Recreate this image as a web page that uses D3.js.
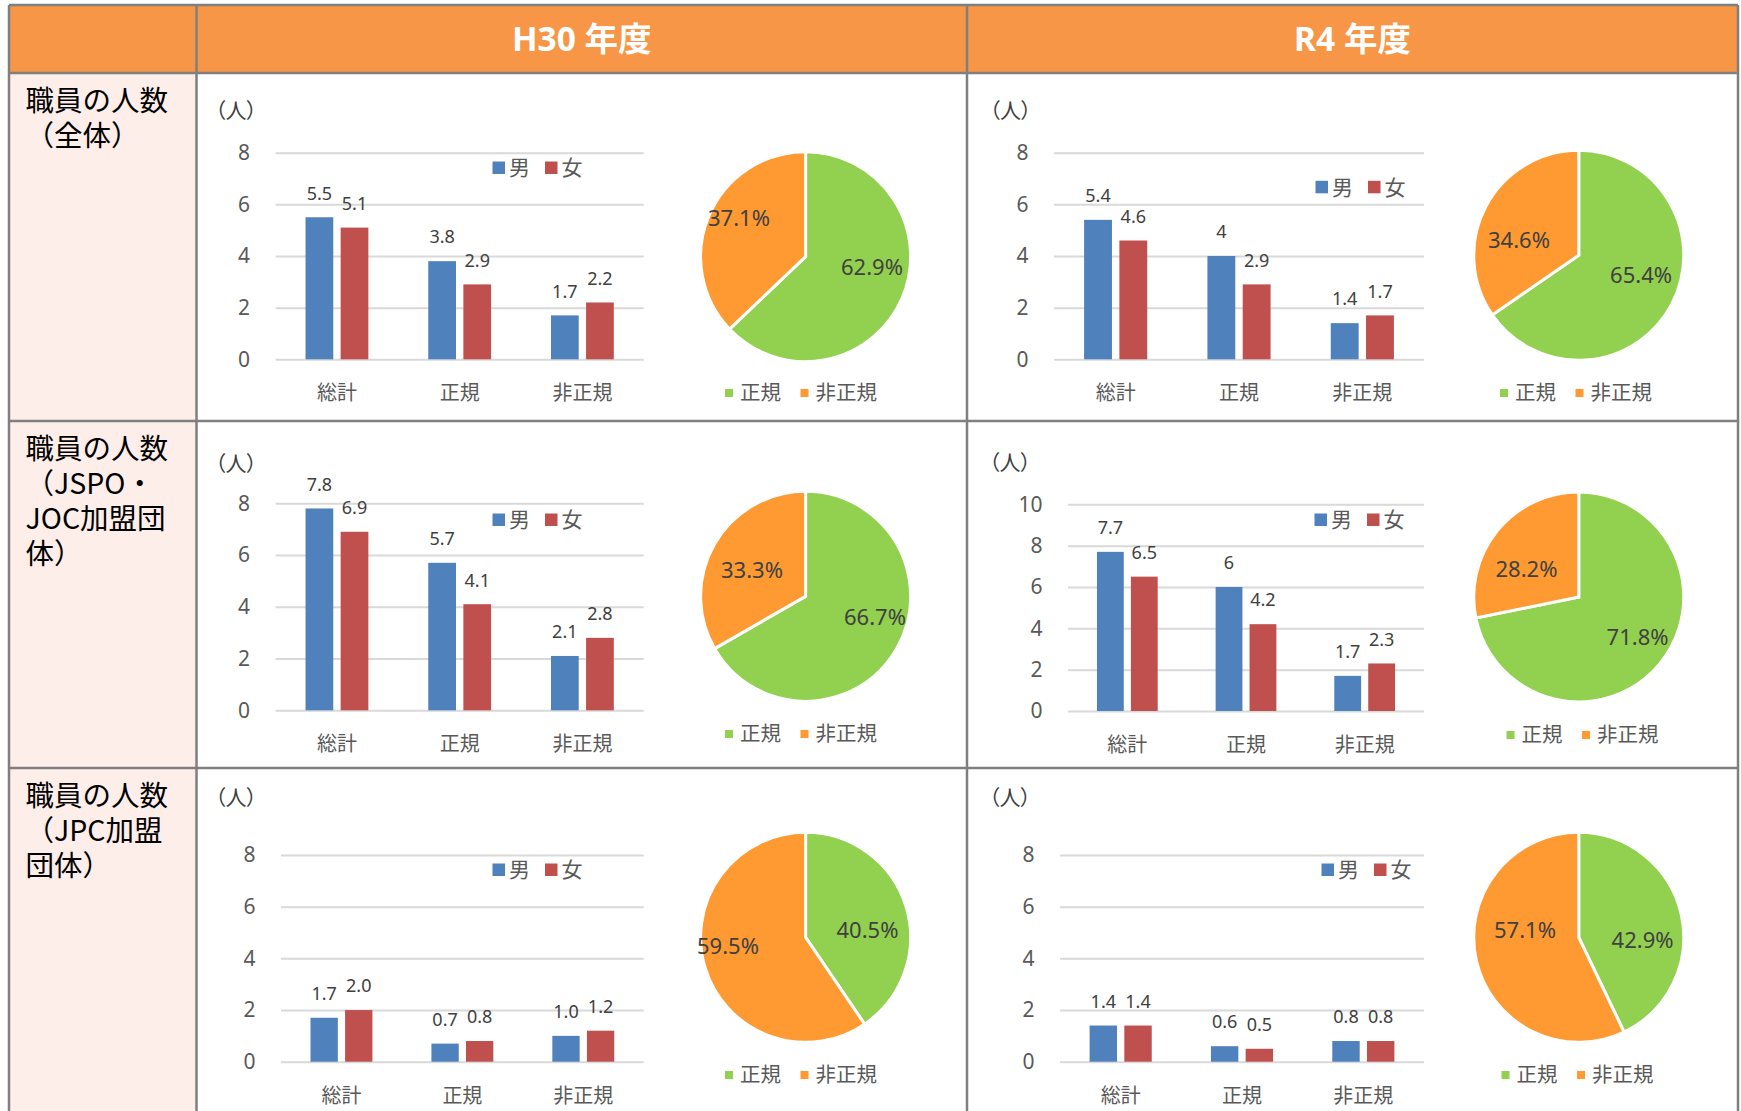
<!DOCTYPE html>
<html><head><meta charset="utf-8">
<script src="https://cdn.jsdelivr.net/npm/d3@7"></script>
<style>
body{margin:0;background:#fff}
svg{display:block}
text{font-family:"Noto Sans","Noto Sans CJK JP",sans-serif}
</style>
</head><body><svg id="chart" width="1741" height="1111"></svg>
<script>
// ---------- data ----------
const yearHeaders = ["H30 年度", "R4 年度"];
const rowTitles = [
  ["職員の人数", "（全体）"],
  ["職員の人数", "（JSPO・", "JOC加盟団", "体）"],
  ["職員の人数", "（JPC加盟", "団体）"]
];
const categories = ["総計", "正規", "非正規"];
const genders = ["男", "女"];
const pieCategories = ["正規", "非正規"];
const unitLabel = "（人）";

const h30AllMale = [5.5, 3.8, 1.7];
const h30AllFemale = [5.1, 2.9, 2.2];
const r4AllMale = [5.4, 4, 1.4];
const r4AllFemale = [4.6, 2.9, 1.7];
const h30JspoMale = [7.8, 5.7, 2.1];
const h30JspoFemale = [6.9, 4.1, 2.8];
const r4JspoMale = [7.7, 6, 1.7];
const r4JspoFemale = [6.5, 4.2, 2.3];
const h30JpcMale = [1.7, 0.7, 1.0];
const h30JpcFemale = [2.0, 0.8, 1.2];
const r4JpcMale = [1.4, 0.6, 0.8];
const r4JpcFemale = [1.4, 0.5, 0.8];

const h30AllPie = [62.9, 37.1];
const r4AllPie = [65.4, 34.6];
const h30JspoPie = [66.7, 33.3];
const r4JspoPie = [71.8, 28.2];
const h30JpcPie = [40.5, 59.5];
const r4JpcPie = [42.9, 57.1];

const ticks8 = [0, 2, 4, 6, 8];
const ticks10 = [0, 2, 4, 6, 8, 10];

// ---------- panels (data binding) ----------
const panels = [
  {row:0, col:0, male:h30AllMale, female:h30AllFemale, pie:h30AllPie, ticks:ticks8, fixed:false},
  {row:0, col:1, male:r4AllMale, female:r4AllFemale, pie:r4AllPie, ticks:ticks8, fixed:false},
  {row:1, col:0, male:h30JspoMale, female:h30JspoFemale, pie:h30JspoPie, ticks:ticks8, fixed:false},
  {row:1, col:1, male:r4JspoMale, female:r4JspoFemale, pie:r4JspoPie, ticks:ticks10, fixed:false},
  {row:2, col:0, male:h30JpcMale, female:h30JpcFemale, pie:h30JpcPie, ticks:ticks8, fixed:true},
  {row:2, col:1, male:r4JpcMale, female:r4JpcFemale, pie:r4JpcPie, ticks:ticks8, fixed:true}
];

// ---------- layout ----------
const colX = [9, 196.5, 967, 1738];
const rowY = [5, 73, 421, 768, 1111];
// lab: pie-label placement offsets from the pie centre (green, orange)
const geom = [
  {x0:275.6, x1:643.75, yT:152.7, yB:359.3, ux:236, uy:111, lx:492.5, ly:168, cx:805.6, cy:256.7, px:725, py:393,
   lab:[[66.4, 10.3], [-66.6, -38.7]]},
  {x0:1054, x1:1424, yT:152.7, yB:359.3, ux:1010.5, uy:111, lx:1315.5, ly:187.3, cx:1578.75, cy:255.3, px:1500, py:393,
   lab:[[62.3, 19.7], [-59.8, -14.6]]},
  {x0:275.6, x1:643.75, yT:503.3, yB:710.3, ux:236, uy:463.3, lx:492.5, ly:520, cx:805.6, cy:596.3, px:725, py:734,
   lab:[[69.4, 21], [-53.6, -26.3]]},
  {x0:1068, x1:1424, yT:504.3, yB:711, ux:1010, uy:462.7, lx:1314.5, ly:520, cx:1578.75, cy:597, px:1506.5, py:735,
   lab:[[58.8, 40.3], [-52.3, -28]]},
  {x0:281, x1:643.75, yT:855, yB:1061.7, ux:236, uy:797.3, lx:492.5, ly:870, cx:805.6, cy:937.3, px:725, py:1075,
   lab:[[61.9, -6.6], [-77.6, 8.7]]},
  {x0:1060, x1:1424, yT:855, yB:1061.7, ux:1010, uy:797.3, lx:1321.5, ly:870, cx:1578.75, cy:937.3, px:1501.5, py:1075,
   lab:[[63.8, 2.7], [-53.8, -6.6]]}
];

const C = {
  header:"#F79646", pink:"#FDEEEA", border:"#7F7F7F", grid:"#D9D9D9",
  male:"#4F81BD", female:"#C0504D", pieA:"#92D050", pieB:"#FF9A33",
  axis:"#595959", label:"#404040"
};
const genderColor = d3.scaleOrdinal().domain(genders).range([C.male, C.female]);
const pieColor = d3.scaleOrdinal().domain(pieCategories).range([C.pieA, C.pieB]);

const svg = d3.select("#chart");

// ---------- table ----------
svg.append("rect").attr("x", colX[0]).attr("y", rowY[0]).attr("width", colX[3]-colX[0]).attr("height", rowY[1]-rowY[0]).attr("fill", C.header);
svg.append("rect").attr("x", colX[0]).attr("y", rowY[1]).attr("width", colX[1]-colX[0]).attr("height", rowY[4]-rowY[1]).attr("fill", C.pink);

yearHeaders.forEach((t, i) => {
  svg.append("text").attr("x", (colX[i+1]+colX[i+2])/2).attr("y", (rowY[0]+rowY[1])/2)
    .attr("dy", "0.35em").attr("text-anchor", "middle").attr("fill", "#fff")
    .attr("font-size", 33.5).attr("font-weight", 700).text(t);
});

rowTitles.forEach((lines, r) => {
  const t = svg.append("text").attr("font-size", 28.5).attr("fill", "#000")
    .style("font-family", "'Noto Sans CJK JP',sans-serif");
  lines.forEach((ln, k) => {
    t.append("tspan").attr("x", 25.5).attr("y", rowY[r+1] + 28.5 + k*34.8).attr("dy", "0.35em").text(ln);
  });
});

// ---------- charts ----------
panels.forEach((p, idx) => {
  const g = geom[idx];
  const gp = svg.append("g");
  const fmt = p.fixed ? d3.format(".1f") : (v => String(v));

  const y = d3.scaleLinear().domain([0, d3.max(p.ticks)]).range([g.yB, g.yT]);
  const x0 = d3.scaleBand().domain(categories).range([g.x0, g.x1]).padding(0);
  const groupW = x0.bandwidth() * 0.512;
  const x1 = d3.scaleBand().domain(genders).range([0, groupW]).paddingInner(0.21).paddingOuter(0);

  // y axis with gridlines
  const ya = gp.append("g").attr("transform", `translate(${g.x0},0)`)
    .call(d3.axisLeft(y).tickValues(p.ticks).tickSize(-(g.x1 - g.x0)).tickPadding(25.5));
  ya.select(".domain").remove();
  ya.selectAll(".tick line").attr("stroke", C.grid).attr("stroke-width", 2);
  ya.selectAll(".tick text").attr("fill", C.axis).attr("font-size", 21).attr("font-family", null);

  // x axis labels
  const xa = gp.append("g").attr("transform", `translate(0,${g.yB})`)
    .call(d3.axisBottom(x0).tickSize(0));
  xa.select(".domain").remove();
  xa.selectAll(".tick text").attr("y", 34).attr("dy", "0.35em").attr("fill", C.axis)
    .attr("font-size", 20).attr("font-family", null)
    .style("font-family", "'Noto Sans CJK JP',sans-serif");

  // unit label
  gp.append("text").attr("x", g.ux).attr("y", g.uy).attr("dy", "0.35em").attr("text-anchor", "middle")
    .attr("font-size", 21).attr("fill", C.label)
    .style("font-family", "'Noto Sans CJK JP',sans-serif").style("font-feature-settings", "'palt'")
    .text(unitLabel);

  // bars
  const rows = categories.map((c, i) => ({cat:c, vals:[{g:"男", v:p.male[i]}, {g:"女", v:p.female[i]}]}));
  const grp = gp.selectAll(".grp").data(rows).join("g")
    .attr("transform", d => `translate(${x0(d.cat) + (x0.bandwidth() - groupW)/2},0)`);
  grp.selectAll("rect").data(d => d.vals).join("rect")
    .attr("x", d => x1(d.g)).attr("width", x1.bandwidth())
    .attr("y", d => y(d.v)).attr("height", d => g.yB - y(d.v))
    .attr("fill", d => genderColor(d.g));
  grp.selectAll("text").data(d => d.vals).join("text")
    .attr("x", d => x1(d.g) + x1.bandwidth()/2).attr("y", d => y(d.v) - 24)
    .attr("dy", "0.35em").attr("text-anchor", "middle").attr("font-size", 18).attr("fill", C.label)
    .text(d => fmt(d.v));

  // bar legend
  const lg = gp.append("g").attr("transform", `translate(${g.lx},${g.ly})`);
  genders.forEach((s, i) => {
    const ox = i * 52.5;
    lg.append("rect").attr("x", ox).attr("y", -6.5).attr("width", 12.5).attr("height", 12.5).attr("fill", genderColor(s));
    lg.append("text").attr("x", ox + 16.5).attr("y", 0).attr("dy", "0.35em").attr("font-size", 21)
      .attr("fill", C.axis).style("font-family", "'Noto Sans CJK JP',sans-serif").text(s);
  });

  // pie
  const R = 105;
  const pieData = d3.pie().sort(null).value(d => d.v)(pieCategories.map((c, i) => ({c, v:p.pie[i]})));
  const arc = d3.arc().innerRadius(0).outerRadius(R);
  const pg = gp.append("g").attr("transform", `translate(${g.cx},${g.cy})`);
  pg.selectAll("path").data(pieData).join("path")
    .attr("d", arc).attr("fill", d => pieColor(d.data.c)).attr("stroke", "#fff").attr("stroke-width", 3);
  pg.selectAll("text").data(pieData).join("text")
    .attr("x", (d, i) => g.lab[i][0]).attr("y", (d, i) => g.lab[i][1])
    .attr("dy", "0.35em").attr("text-anchor", "middle").attr("font-size", 22).attr("fill", C.label)
    .text(d => d.data.v.toFixed(1) + "%");

  // pie legend
  const pl = gp.append("g").attr("transform", `translate(${g.px},${g.py})`);
  pieCategories.forEach((s, i) => {
    const ox = i * 75.5;
    pl.append("rect").attr("x", ox).attr("y", -4).attr("width", 8).attr("height", 8).attr("fill", pieColor(s));
    pl.append("text").attr("x", ox + 15).attr("y", 0).attr("dy", "0.35em").attr("font-size", 20.5)
      .attr("fill", C.axis).style("font-family", "'Noto Sans CJK JP',sans-serif").text(s);
  });
});

// ---------- borders ----------
const bl = svg.append("g").attr("stroke", C.border).attr("stroke-width", 2.5);
rowY.slice(0, 4).forEach(yy => bl.append("line").attr("x1", colX[0]).attr("x2", colX[3]).attr("y1", yy).attr("y2", yy));
colX.forEach(xx => bl.append("line").attr("x1", xx).attr("x2", xx).attr("y1", rowY[0]).attr("y2", rowY[4]));
</script>
</body></html>
